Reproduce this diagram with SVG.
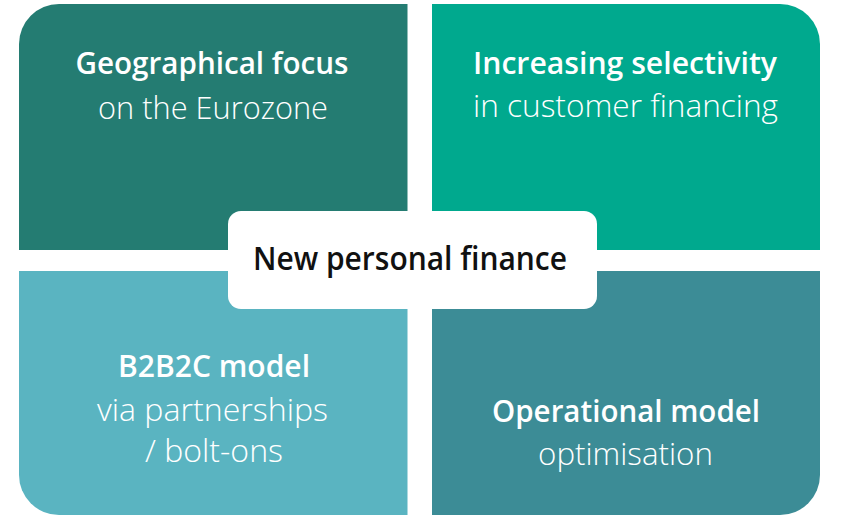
<svg xmlns="http://www.w3.org/2000/svg" width="841" height="516" viewBox="0 0 841 516">
  <style>
    .t { font-family: "Open Sans", "Noto Sans", "Liberation Sans", sans-serif; fill: #ffffff; text-anchor: middle; font-size: 31px; }
    .b { font-weight: 600; }
    .l { font-weight: 300; }
    .c { font-family: "Open Sans", "Noto Sans", "Liberation Sans", sans-serif; fill: #111111; font-weight: 600; font-size: 32px; text-anchor: middle; }
  </style>
  <rect width="841" height="516" fill="#ffffff"/>

  <g id="geo">
    <path d="M19,250 V44 A40,40 0 0 1 59,4 H407.5 V250 Z" fill="#247c72"/>
    <text class="t b" x="212" y="74" textLength="273" lengthAdjust="spacingAndGlyphs">Geographical focus</text>
    <text class="t l" x="213" y="119" textLength="230" lengthAdjust="spacingAndGlyphs">on the Eurozone</text>
  </g>

  <g id="selectivity">
    <path d="M432,4 H780 A40,40 0 0 1 820,44 V250 H432 Z" fill="#00a98e"/>
    <text class="t b" x="625" y="74" textLength="304" lengthAdjust="spacingAndGlyphs">Increasing selectivity</text>
    <text class="t l" x="625.5" y="117" textLength="305" lengthAdjust="spacingAndGlyphs">in customer financing</text>
  </g>

  <g id="b2b2c">
    <path d="M19,271 H407.5 V515 H59 A40,40 0 0 1 19,475 Z" fill="#5ab4c1"/>
    <text class="t b" x="214" y="377" textLength="192" lengthAdjust="spacingAndGlyphs">B2B2C model</text>
    <text class="t l" x="212.5" y="421" textLength="231" lengthAdjust="spacingAndGlyphs">via partnerships</text>
    <text class="t l" x="214" y="462" textLength="138" lengthAdjust="spacingAndGlyphs">/ bolt-ons</text>
  </g>

  <g id="operational">
    <path d="M432,271 H820 V475 A40,40 0 0 1 780,515 H432 Z" fill="#3c8c96"/>
    <text class="t b" x="626" y="422" textLength="268" lengthAdjust="spacingAndGlyphs">Operational model</text>
    <text class="t l" x="625.5" y="465" textLength="175" lengthAdjust="spacingAndGlyphs">optimisation</text>
  </g>

  <g id="center">
    <rect x="228" y="211" width="369" height="98" rx="13" fill="#ffffff"/>
    <text class="c" x="410" y="270" textLength="314" lengthAdjust="spacingAndGlyphs">New personal finance</text>
  </g>
</svg>
